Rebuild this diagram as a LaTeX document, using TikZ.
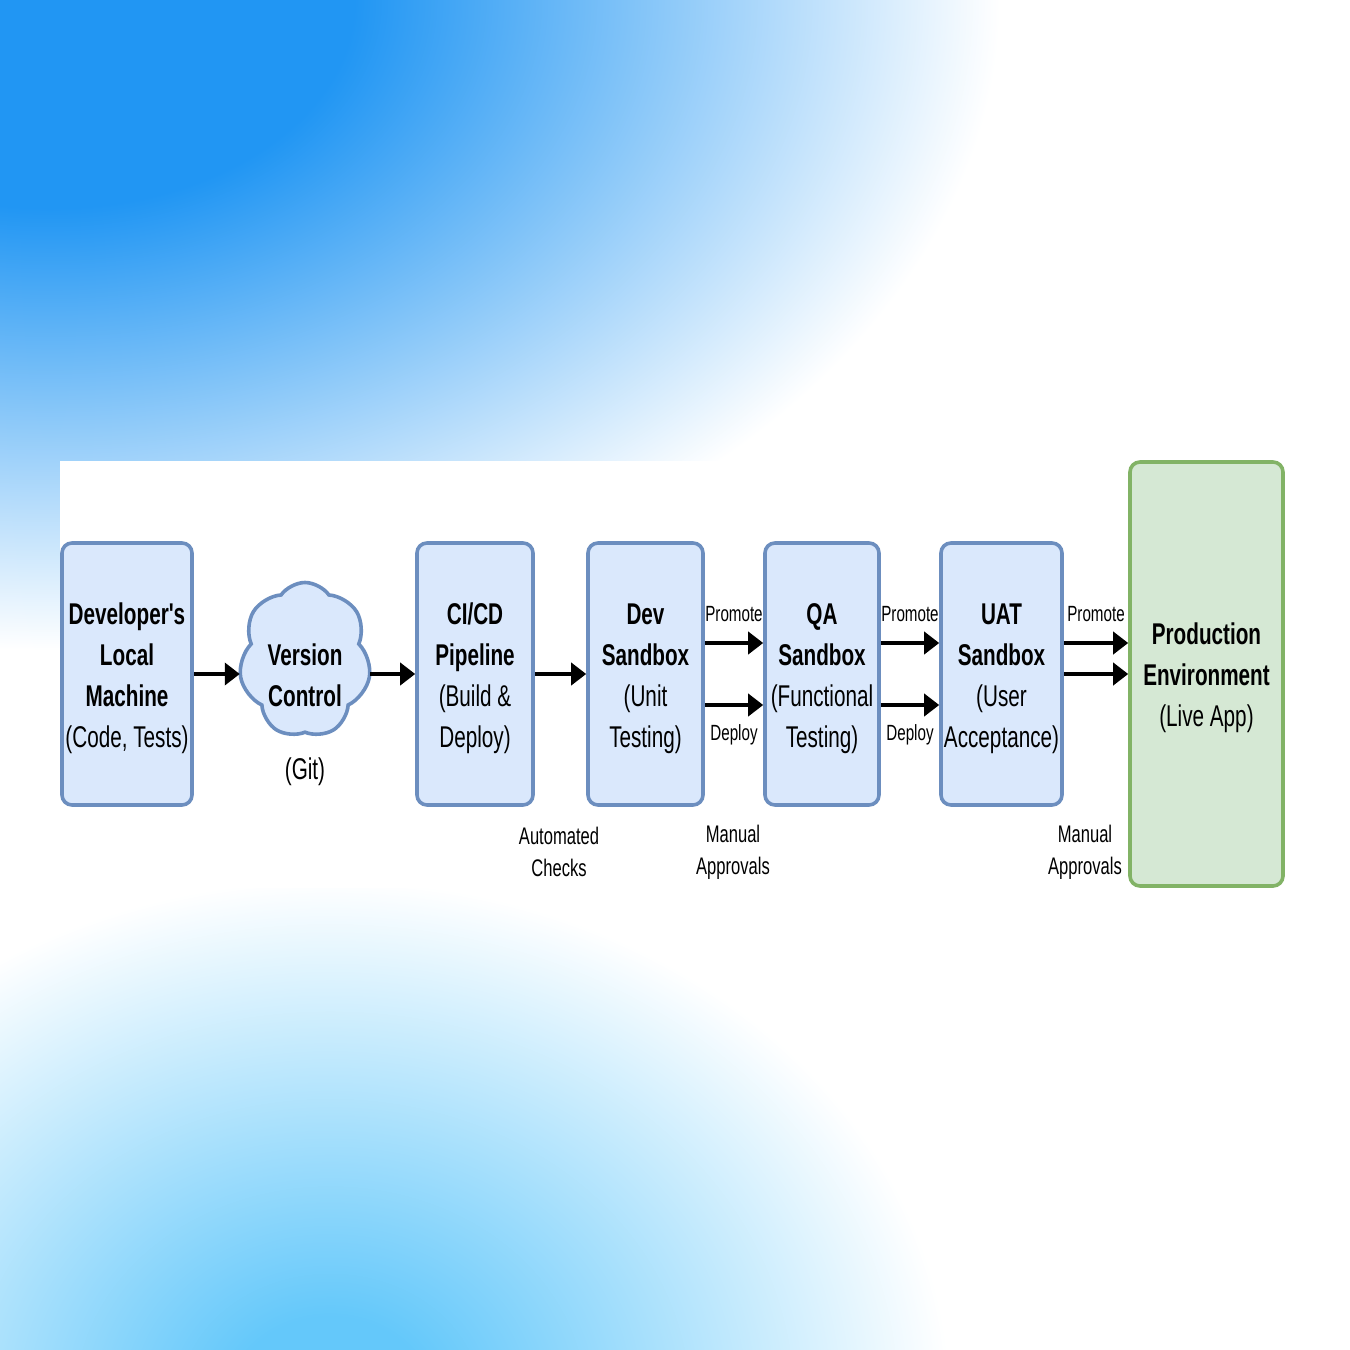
\documentclass[tikz,border=0pt]{standalone}
\usepackage{fontspec}
\setmainfont{Liberation Sans}[FakeStretch=0.69,Ligatures=TeXOff]
\usetikzlibrary{arrows.meta,shapes.symbols}
\definecolor{skyblue}{RGB}{33,150,243}
\definecolor{lowblue}{RGB}{100,200,250}
\definecolor{boxfill}{HTML}{DAE8FC}
\definecolor{boxline}{HTML}{6C8EBF}
\definecolor{prodfill}{HTML}{D5E8D4}
\definecolor{prodline}{HTML}{82B366}
\pgfdeclareradialshading{topglow}{\pgfpoint{0bp}{0bp}}{color(0bp)=(skyblue); color(8bp)=(skyblue); color(25bp)=(white); color(50bp)=(white)}
\pgfdeclareradialshading{lowglow}{\pgfpoint{0bp}{0bp}}{color(0bp)=(lowblue); color(4bp)=(lowblue); color(25bp)=(white); color(50bp)=(white)}
\newcommand{\topgap}{\rule{0pt}{15pt}}

\begin{document}
\begin{tikzpicture}[x=0.5pt,y=-0.5pt,
  stage/.style={draw=boxline,fill=boxfill,line width=1.8pt,rounded corners=5pt,
    minimum height=131pt,align=center,font=\fontsize{15}{20.5}\selectfont,inner sep=0pt},
  live/.style={stage,draw=prodline,fill=prodfill,minimum height=212pt},
  repo/.style={cloud,cloud puffs=7,cloud puff arc=110,draw=boxline,fill=boxfill,line width=1.8pt,
    minimum width=66pt,minimum height=77.5pt,inner sep=0pt},
  word/.style={align=center,font=\fontsize{15}{20.5}\selectfont,inner sep=0pt},
  flow/.style={line width=2.2pt,-{Triangle[length=7.5pt,width=11pt]}},
  tag/.style={font=\fontsize{11}{13}\selectfont,inner sep=0pt},
  note/.style={align=center,font=\fontsize{12}{16}\selectfont,inner sep=0pt}]

% backdrop
\fill[white] (0,0) rectangle (1350,1350);
\begin{scope}
  \clip (0,0) rectangle (1350,1350);
  \shade[shading=topglow] (50,0) ellipse (950 and 650);
  \shade[shading=lowglow] (330,1400) ellipse (620 and 520);
\end{scope}
\fill[white] (60,461) rectangle (1350,888);
\useasboundingbox (0,0) rectangle (1350,1350);

% stages
\node[stage,minimum width=65pt] (dev) at (127,674) {\topgap\textbf{Developer's}\\\textbf{Local}\\\textbf{Machine}\\(Code, Tests)};
\node[repo] (vcs) at (305,660) {};
\node[word] (vcstext) at (305,675) {\textbf{Version}\\\textbf{Control}};
\node[word] (git) at (305,772) {(Git)};
\node[stage,minimum width=58pt] (cicd) at (475,674) {\topgap\textbf{CI/CD}\\\textbf{Pipeline}\\(Build \&\\Deploy)};
\node[stage,minimum width=57.5pt] (devsb) at (645.5,674) {\topgap\textbf{Dev}\\\textbf{Sandbox}\\(Unit\\Testing)};
\node[stage,minimum width=57pt] (qa) at (822,674) {\topgap\textbf{QA}\\\textbf{Sandbox}\\(Functional\\Testing)};
\node[stage,minimum width=60.5pt] (uat) at (1001.5,674) {\topgap\textbf{UAT}\\\textbf{Sandbox}\\(User\\Acceptance)};
\node[live,minimum width=76.5pt] (prod) at (1206.5,674) {\topgap\textbf{Production}\\\textbf{Environment}\\(Live App)};

% arrows
\draw[flow] (dev.east) -- (dev.east -| vcs.west);
\draw[flow] (vcs.east |- cicd.west) -- (cicd.west);
\draw[flow] (cicd) -- (devsb);
\draw[flow] ([yshift=15.5pt]devsb.east) -- ([yshift=15.5pt]qa.west) node[tag,midway,yshift=14.5pt] {Promote};
\draw[flow] ([yshift=-15.5pt]devsb.east) -- ([yshift=-15.5pt]qa.west) node[tag,midway,yshift=-15pt] {Deploy};
\draw[flow] ([yshift=15.5pt]qa.east) -- ([yshift=15.5pt]uat.west) node[tag,midway,yshift=14.5pt] {Promote};
\draw[flow] ([yshift=-15.5pt]qa.east) -- ([yshift=-15.5pt]uat.west) node[tag,midway,yshift=-15pt] {Deploy};
\draw[flow] ([yshift=15.5pt]uat.east) -- ([yshift=15.5pt]prod.west) node[tag,midway,yshift=14.5pt] {Promote};
\draw[flow] (uat.east) -- (uat.east -| prod.west);

% gate notes
\node[note] (auto) at (559,852) {Automated\\Checks};
\node[note] (appr1) at (733,852) {Manual\\Approvals};
\node[note] (appr2) at (1085,852) {Manual\\Approvals};
\end{tikzpicture}
\end{document}
